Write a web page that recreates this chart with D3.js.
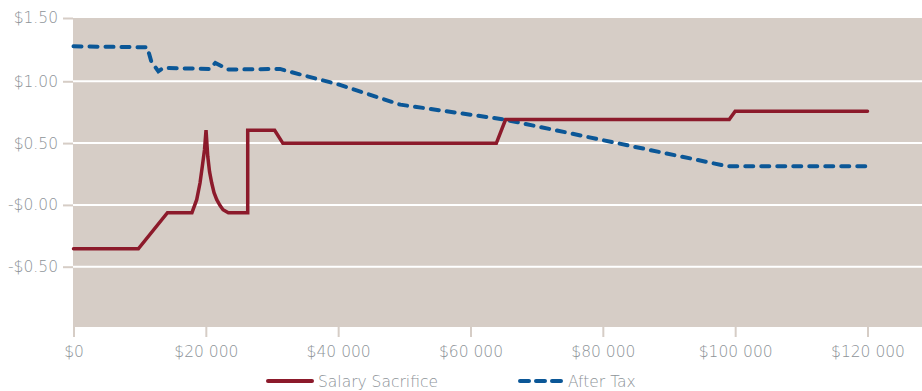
<!DOCTYPE html>
<html>
<head>
<meta charset="utf-8">
<script src="https://d3js.org/d3.v7.min.js"></script>
<style>
    body { margin: 0; background: #fff; }
    text { font-family: "DejaVu Sans", sans-serif; font-weight: 200; fill: #8d9398; }
</style>
</head>
<body>
<script>
(function(){

    //income levels and net benefit
    var salarySacrifice = [
        [0, -0.355], [9800, -0.355], [14200, -0.063], [17900, -0.063],
        [18620, 0.042], [19120, 0.177], [19470, 0.312], [19800, 0.447], [20030, 0.605],
        [20290, 0.393], [20560, 0.269], [20890, 0.177], [21240, 0.099], [21650, 0.042],
        [22150, -0.006], [22600, -0.039], [23400, -0.063],
        [26330, -0.063], [26330, 0.603], [30400, 0.603], [31650, 0.498],
        [63900, 0.498], [65300, 0.69], [99100, 0.69], [100000, 0.757], [120000, 0.757]
    ];
    var afterTax = [
        [0, 1.283], [11150, 1.275], [11750, 1.162], [12820, 1.081], [13530, 1.108],
        [20600, 1.100], [21440, 1.149], [23400, 1.095], [31200, 1.100], [33000, 1.073],
        [40000, 0.975], [49400, 0.811], [65200, 0.69], [98900, 0.312], [120000, 0.312]
    ];

    //tick values and their labels
    var xTicks = [0, 20000, 40000, 60000, 80000, 100000, 120000];
    var xLabels = ["$0", "$20 000", "$40 000", "$60 000", "$80 000", "$100 000", "$120 000"];
    var yTicks = [1.5, 1, 0.5, 0, -0.5];
    var yLabels = ["$1.50", "$1.00", "$0.50", "-$0.00", "-$0.50"];
    var seriesNames = ["Salary Sacrifice", "After Tax"];

    var width = 922,
        height = 391;

    var svg = d3.select("body")
        .append("svg")
        .attr("width", width)
        .attr("height", height);

    //scales
    var x = d3.scaleLinear()
        .domain([0, 120000])
        .range([73.5, 867.5]);
    var y = d3.scaleLinear()
        .domain([-1, 1.5])
        .range([328.5, 19.5]);

    //plot background
    svg.append("rect")
        .attr("x", x(0) - 0.5)
        .attr("y", 18)
        .attr("width", width - x(0) + 0.5)
        .attr("height", 327 - 18)
        .attr("fill", "#d6cdc6");

    //white gridlines
    svg.selectAll(".grid")
        .data(yTicks.filter(function(d){ return d < 1.5; }))
        .enter()
        .append("line")
        .attr("class", "grid")
        .attr("x1", x(0) - 0.5)
        .attr("x2", width)
        .attr("y1", function(d){ return y(d); })
        .attr("y2", function(d){ return y(d); })
        .attr("stroke", "#fff")
        .attr("stroke-width", 2);

    //y axis
    var yAxis = d3.axisLeft(y)
        .tickValues(yTicks)
        .tickSize(10)
        .tickPadding(5)
        .tickFormat(function(d, i){ return yLabels[i]; });
    var gy = svg.append("g")
        .attr("transform", "translate(" + (x(0) - 0.5) + ",0)")
        .call(yAxis);
    gy.select(".domain").remove();
    gy.selectAll(".tick line").attr("stroke", "#d6cdc6").attr("stroke-width", 2);
    gy.selectAll(".tick text")
        .attr("font-size", 15.5)
        .attr("font-family", "DejaVu Sans")
        .attr("fill", "#8d9398");
    gy.selectAll(".tick")
        .filter(function(d){ return d === 1.5; })
        .attr("transform", "translate(0," + 18.5 + ")");

    //x axis
    var xAxis = d3.axisBottom(x)
        .tickValues(xTicks)
        .tickSize(10)
        .tickPadding(9)
        .tickFormat(function(d, i){ return xLabels[i]; });
    var gx = svg.append("g")
        .attr("transform", "translate(0,327)")
        .call(xAxis);
    gx.select(".domain").remove();
    gx.selectAll(".tick line").attr("stroke", "#d6cdc6").attr("stroke-width", 2);
    gx.selectAll(".tick text")
        .attr("font-size", 15.5)
        .attr("font-family", "DejaVu Sans")
        .attr("fill", "#8d9398");

    //line generator
    var line = d3.line()
        .x(function(d){ return x(d[0]); })
        .y(function(d){ return y(d[1]); });

    svg.append("path")
        .datum(afterTax)
        .attr("d", line)
        .attr("fill", "none")
        .attr("stroke", "#0b5797")
        .attr("stroke-width", 4)
        .attr("stroke-linecap", "round")
        .attr("stroke-dasharray", "8,8");

    svg.append("path")
        .datum(salarySacrifice)
        .attr("d", line)
        .attr("fill", "none")
        .attr("stroke", "#8c1a2b")
        .attr("stroke-width", 3.5)
        .attr("stroke-linejoin", "miter")
        .attr("stroke-linecap", "round");

    //legend
    var legend = svg.append("g").attr("class", "legend");
    legend.append("line")
        .attr("x1", 268).attr("x2", 312)
        .attr("y1", 381).attr("y2", 381)
        .attr("stroke", "#8c1a2b")
        .attr("stroke-width", 4)
        .attr("stroke-linecap", "round");
    legend.append("text")
        .attr("x", 318).attr("y", 387)
        .attr("font-size", 15.5)
        .text(seriesNames[0]);
    legend.append("line")
        .attr("x1", 520).attr("x2", 562)
        .attr("y1", 381).attr("y2", 381)
        .attr("stroke", "#0b5797")
        .attr("stroke-width", 4)
        .attr("stroke-linecap", "round")
        .attr("stroke-dasharray", "9,7");
    legend.append("text")
        .attr("x", 568).attr("y", 387)
        .attr("font-size", 15.5)
        .text(seriesNames[1]);

})();
</script>
</body>
</html>
